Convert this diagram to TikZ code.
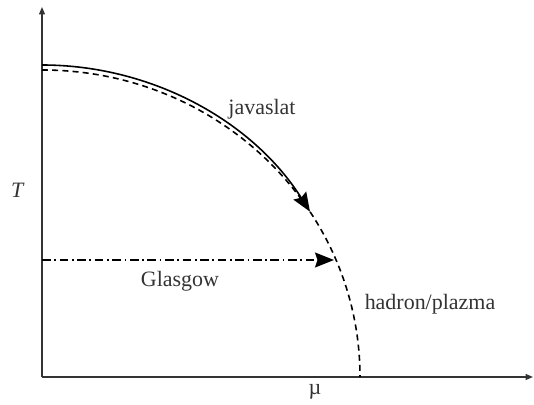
\documentclass[tikz,border=0pt]{standalone}
\usepackage{fontspec}
\setmainfont{Liberation Serif}
\usetikzlibrary{arrows.meta}

\tikzset{
  axis/.style={black!80, line width=0.8pt, -{Triangle[length=0.15cm, width=0.12cm]}},
  bigtip/.style={-{Stealth[length=0.38cm, width=0.3cm, inset=0.05cm]}},
  label/.style={black!80, font=\fontsize{12.5}{14}\selectfont, inner sep=1pt}
}

\begin{document}
\begin{tikzpicture}[x=0.02cm, y=0.02cm]
\useasboundingbox (0,0) rectangle (534,405);

  % Define the positions of the vertices
  \coordinate (O) at (42, 28);
  \coordinate (Ytop) at (42, 398);
  \coordinate (Xend) at (533, 28);
  \coordinate (L) at (42, 145);
  \coordinate (Ltip) at (334, 145);

  % Draw the axes
  \draw[axis] (O) to (Ytop);
  \draw[axis] (O) to (Xend);

  % Draw the curves
  \draw[line width=0.9pt, dash pattern=on 3.4pt off 2.4pt] (O) ++(0,307) arc[start angle=90, end angle=0, x radius=318, y radius=307];
  \draw[line width=0.9pt, bigtip] (O) ++(0,312) arc[start angle=90, end angle=32, x radius=316, y radius=312];
  \draw[line width=0.9pt, bigtip, dash pattern=on 5pt off 2pt on 1pt off 2pt] (L) to (Ltip);

  % Draw the labels
  \node[label] (T) at (18, 215) {\textit{T}};
  \node[label] (mu) at (315, 13) {µ};
  \node[label] (javaslat) at (262, 296) {javaslat};
  \node[label] (glasgow) at (180, 124) {Glasgow};
  \node[label] (phase) at (430, 101) {hadron/plazma};
\end{tikzpicture}
\end{document}
